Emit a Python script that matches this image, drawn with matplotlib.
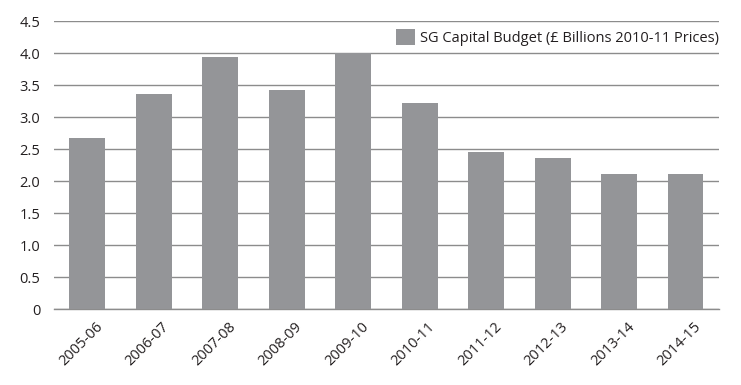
import numpy as np
import matplotlib
matplotlib.use("Agg")
import matplotlib.pyplot as plt

years = ["2005-06", "2006-07", "2007-08", "2008-09", "2009-10",
         "2010-11", "2011-12", "2012-13", "2013-14", "2014-15"]
budget = [2.68, 3.36, 3.94, 3.43, 4.00, 3.22, 2.46, 2.36, 2.11, 2.11]
series_name = "SG Capital Budget (£ Billions 2010-11 Prices)"

bar_col = "#949598"
grid_col = "#8c8c8c"
text_col = "#231f20"

plt.rcParams['font.family'] = ['Open Sans', 'DejaVu Sans']

fig = plt.figure(figsize=(7.41, 3.85), dpi=100)
ax = fig.add_axes([0.0729, 0.1966, 0.8971, 0.7481])

x = np.arange(len(years))
ax.bar(x, budget, width=0.54, color=bar_col, label=series_name, zorder=3)

ax.set_xlim(-0.5, len(years) - 0.5)
ax.set_ylim(0, 4.5)
ax.set_yticks(np.arange(0, 4.51, 0.5))
ax.set_yticklabels(["0"] + ["%.1f" % v for v in np.arange(0.5, 4.51, 0.5)])
# ticks are invisible; nudge them right so the slanted labels end under the bars
ax.set_xticks(x + 0.12)
ax.set_xticklabels(years, rotation=45, ha="right", rotation_mode="anchor")

ax.grid(axis="y", color=grid_col, linewidth=1.0, zorder=0)
for s in ["top", "right", "left"]:
    ax.spines[s].set_visible(False)
ax.spines["bottom"].set_color(grid_col)
ax.spines["bottom"].set_linewidth(1.0)
ax.tick_params(axis="both", length=0, colors=text_col)
ax.tick_params(axis="y", pad=10, labelsize=10.5)
ax.tick_params(axis="x", pad=7, labelsize=10.5)

leg = ax.legend(loc="center right", bbox_to_anchor=(1.0, 0.945), frameon=False,
                fontsize=10.5, handlelength=1.3, handleheight=1.3,
                handletextpad=0.3, borderaxespad=0.0, borderpad=0.0)
for t in leg.get_texts():
    t.set_color(text_col)

fig.savefig("out.png", dpi=100)
